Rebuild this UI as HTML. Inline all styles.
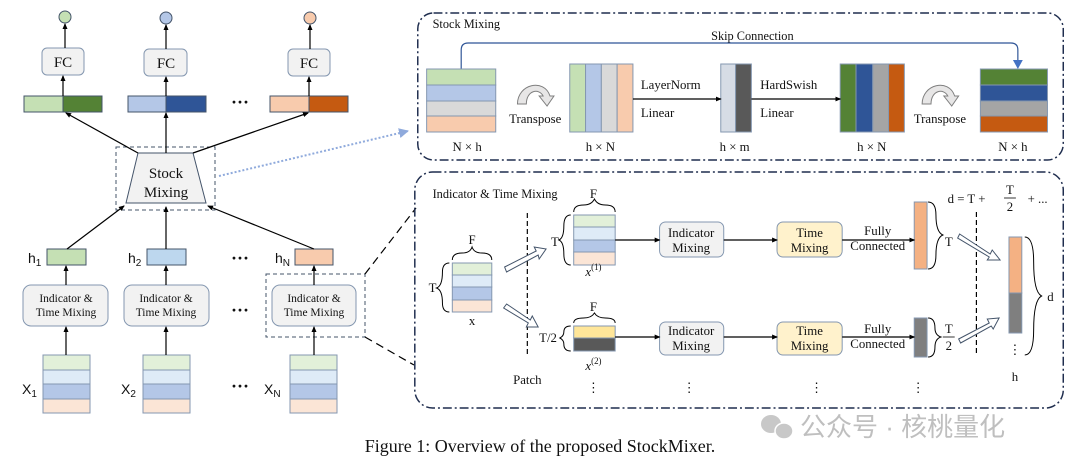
<!DOCTYPE html>
<html><head><meta charset="utf-8"><style>
html,body{margin:0;padding:0;background:#fff;}
svg{display:block;}
text{font-family:"Liberation Serif",serif;fill:#111;}
</style></head><body>
<svg width="1080" height="470" viewBox="0 0 1080 470" xmlns="http://www.w3.org/2000/svg">
<defs>
<marker id="a" markerWidth="6" markerHeight="6" refX="5" refY="3" orient="auto" markerUnits="userSpaceOnUse"><path d="M0,0.5 L6,3 L0,5.5 Z" fill="#000"/></marker>
<marker id="b" markerWidth="10" markerHeight="10" refX="9" refY="5" orient="auto" markerUnits="userSpaceOnUse"><path d="M0,0 L10,5 L0,10 Z" fill="#8faadc"/></marker>
</defs>
<g stroke="#44546a" stroke-width="1">
<circle cx="65" cy="17" r="6" fill="#c5e0b4"/>
<circle cx="166" cy="18" r="6" fill="#b4c7e7"/>
<circle cx="310" cy="18" r="6" fill="#f8cbad"/>
<rect x="42" y="48" width="42" height="27" rx="5" fill="#f2f2f2" stroke="#8497b0"/>
<rect x="144" y="49" width="43" height="27" rx="5" fill="#f2f2f2" stroke="#8497b0"/>
<rect x="288" y="49" width="42" height="27" rx="5" fill="#f2f2f2" stroke="#8497b0"/>
<rect x="24" y="96" width="39" height="16" fill="#c5e0b4"/><rect x="63" y="96" width="39" height="16" fill="#548235"/>
<rect x="128" y="96" width="38" height="16" fill="#b4c7e7"/><rect x="166" y="96" width="40" height="16" fill="#2f5597"/>
<rect x="270" y="96" width="39" height="16" fill="#f8cbad"/><rect x="309" y="96" width="39" height="16" fill="#c55a11"/>
<rect x="116" y="147" width="99" height="63" fill="none" stroke-dasharray="4,3"/>
<path d="M138,153 L193,153 L206,203 L126,203 Z" fill="#f2f2f2"/>
<rect x="47" y="249" width="39" height="16" fill="#c5e0b4"/>
<rect x="147" y="249" width="39" height="16" fill="#bdd7ee"/>
<rect x="295" y="249" width="38" height="16" fill="#f8cbad"/>
<rect x="23" y="285" width="85" height="41" rx="8" fill="#f2f2f2" stroke="#8497b0"/>
<rect x="124" y="285" width="85" height="41" rx="8" fill="#f2f2f2" stroke="#8497b0"/>
<rect x="272" y="285" width="84" height="41" rx="8" fill="#f2f2f2" stroke="#8497b0"/>
<rect x="266" y="274" width="99" height="63" fill="none" stroke-dasharray="4,3"/>
</g>
<g stroke="#8497b0" stroke-width="1">
<g id="stk"><rect x="43" y="355" width="47" height="15" fill="#e2f0d9"/><rect x="43" y="370" width="47" height="14" fill="#deebf7"/><rect x="43" y="384" width="47" height="15" fill="#b4c7e7"/><rect x="43" y="399" width="47" height="14" fill="#fbe5d6"/></g>
<use href="#stk" x="100"/><use href="#stk" x="247"/>
</g>
<g stroke="#000" stroke-width="1.2" fill="none" marker-end="url(#a)">
<line x1="65" y1="48" x2="65" y2="24"/><line x1="166" y1="49" x2="166" y2="25"/><line x1="310" y1="49" x2="310" y2="25"/>
<line x1="63" y1="96" x2="63" y2="76"/><line x1="166" y1="96" x2="166" y2="77"/><line x1="309" y1="96" x2="309" y2="77"/>
<line x1="138" y1="153" x2="66" y2="113"/><line x1="166" y1="153" x2="166" y2="113"/><line x1="193" y1="153" x2="308" y2="113"/>
<line x1="67" y1="249" x2="124" y2="206"/><line x1="166" y1="249" x2="166" y2="207"/><line x1="314" y1="249" x2="208" y2="206"/>
<line x1="66" y1="285" x2="66" y2="266"/><line x1="166" y1="285" x2="166" y2="266"/><line x1="314" y1="285" x2="314" y2="266"/>
<line x1="66" y1="355" x2="66" y2="327"/><line x1="166" y1="355" x2="166" y2="327"/><line x1="314" y1="355" x2="314" y2="327"/>
</g>
<g stroke="#000" stroke-width="1.2" stroke-dasharray="8,5">
<line x1="365" y1="274" x2="416" y2="208"/><line x1="365" y1="337" x2="414" y2="365"/>
</g>
<line x1="219" y1="176" x2="408" y2="131" stroke="#8faadc" stroke-width="2" stroke-dasharray="2,2" marker-end="url(#b)"/>
<g font-size="15" text-anchor="middle">
<text x="63" y="67">FC</text><text x="166" y="68">FC</text><text x="309" y="68">FC</text>
<text x="166" y="178">Stock</text><text x="166" y="197">Mixing</text>
</g>
<g font-size="11.5" text-anchor="middle" fill="#222">
<text x="66" y="302">Indicator &amp;</text><text x="66" y="316">Time Mixing</text>
<text x="166" y="302">Indicator &amp;</text><text x="166" y="316">Time Mixing</text>
<text x="314" y="302">Indicator &amp;</text><text x="314" y="316">Time Mixing</text>
</g>
<g font-size="14">
<text x="28" y="263" style="font-family:'Liberation Sans',sans-serif">h<tspan font-size="10" dy="3">1</tspan></text>
<text x="128" y="263" style="font-family:'Liberation Sans',sans-serif">h<tspan font-size="10" dy="3">2</tspan></text>
<text x="275" y="263" style="font-family:'Liberation Sans',sans-serif">h<tspan font-size="10" dy="3">N</tspan></text>
<text x="22" y="394" style="font-family:'Liberation Sans',sans-serif">X<tspan font-size="10" dy="3">1</tspan></text>
<text x="121" y="394" style="font-family:'Liberation Sans',sans-serif">X<tspan font-size="10" dy="3">2</tspan></text>
<text x="264" y="394" style="font-family:'Liberation Sans',sans-serif">X<tspan font-size="10" dy="3">N</tspan></text>
</g>
<g font-size="18" font-weight="bold" text-anchor="middle">
<text x="240" y="108">···</text><text x="240" y="264">···</text><text x="240" y="316">···</text><text x="240" y="392">···</text>
</g>

<g transform="matrix(0.987 0 0 1 5.2 0)">
<rect x="418" y="13" width="654" height="147" rx="16" fill="none" stroke="#1f2d4e" stroke-width="1.5" stroke-dasharray="9,3,2,3"/>
<text x="433" y="28" font-size="12.5">Stock Mixing</text>
<path d="M462,69 V50 Q462,43 469,43 H1019 Q1026,43 1026,50 V60" fill="none" stroke="#2f5597" stroke-width="1.2"/>
<path d="M1021,60 L1031,60 L1026,69 Z" fill="#4472c4"/>
<text x="757" y="40" font-size="12.5" text-anchor="middle">Skip Connection</text>
<g stroke="#8497b0" stroke-width="1">
<rect x="427" y="69" width="70" height="16" fill="#c5e0b4"/><rect x="427" y="85" width="70" height="16" fill="#b4c7e7"/><rect x="427" y="101" width="70" height="15" fill="#d9d9d9"/><rect x="427" y="116" width="70" height="16" fill="#f8cbad"/>
<rect x="572" y="64" width="16" height="68" fill="#c5e0b4"/><rect x="588" y="64" width="16" height="68" fill="#b4c7e7"/><rect x="604" y="64" width="16" height="68" fill="#d9d9d9"/><rect x="620" y="64" width="16" height="68" fill="#f8cbad"/>
<rect x="725" y="64" width="15" height="68" fill="#d6dce5"/><rect x="740" y="64" width="16" height="68" fill="#595959"/>
<rect x="846" y="64" width="16" height="68" fill="#548235"/><rect x="862" y="64" width="17" height="68" fill="#2f5597"/><rect x="879" y="64" width="16" height="68" fill="#a5a5a5"/><rect x="895" y="64" width="16" height="68" fill="#c55a11"/>
<rect x="988" y="69" width="68" height="16" fill="#548235"/><rect x="988" y="85" width="68" height="16" fill="#2f5597"/><rect x="988" y="101" width="68" height="15" fill="#a5a5a5"/><rect x="988" y="116" width="68" height="16" fill="#c55a11"/>
</g>
<g stroke="#000" stroke-width="1.2" marker-end="url(#a)">
<line x1="636" y1="99" x2="725" y2="99"/><line x1="756" y1="99" x2="846" y2="99"/>
</g>
<g fill="#e7e6e6" stroke="#7f7f7f" stroke-width="1">
<path d="M519,104 C519,84 546,78 552,96 L556,96 L549,106 L541,96 L545,96 C541,88 528,90 528,104 Z"/>
<path d="M929,104 C929,84 956,78 962,96 L966,96 L959,106 L951,96 L955,96 C951,88 938,90 938,104 Z"/>
</g>
<g font-size="13" text-anchor="middle">
<text x="537" y="123">Transpose</text><text x="947" y="123">Transpose</text>
<text x="468" y="151">N × h</text><text x="603" y="151">h × N</text><text x="739" y="151">h × m</text><text x="878" y="151">h × N</text><text x="1021" y="151">N × h</text>
</g>
<g font-size="13">
<text x="644" y="89">LayerNorm</text><text x="644" y="117">Linear</text>
<text x="765" y="89">HardSwish</text><text x="765" y="117">Linear</text>
</g>

<rect x="415" y="172" width="657" height="236" rx="18" fill="none" stroke="#1f2d4e" stroke-width="1.5" stroke-dasharray="9,3,2,3"/>
<text x="433" y="198" font-size="12.5">Indicator &amp; Time Mixing</text>
<g stroke="#8497b0" stroke-width="1">
<rect x="453" y="263" width="40" height="12" fill="#e2f0d9"/><rect x="453" y="275" width="40" height="12" fill="#deebf7"/><rect x="453" y="287" width="40" height="13" fill="#b4c7e7"/><rect x="453" y="300" width="40" height="12" fill="#fbe5d6"/>
<rect x="576" y="215" width="42" height="12" fill="#e2f0d9"/><rect x="576" y="227" width="42" height="13" fill="#deebf7"/><rect x="576" y="240" width="42" height="12" fill="#b4c7e7"/><rect x="576" y="252" width="42" height="13" fill="#fbe5d6"/>
<rect x="576" y="326" width="42" height="12" fill="#ffe699"/><rect x="576" y="338" width="42" height="13" fill="#595959"/>
<rect x="663" y="222" width="65" height="35" rx="6" fill="#f2f2f2"/>
<rect x="782" y="222" width="66" height="35" rx="6" fill="#fff2cc"/>
<rect x="663" y="322" width="65" height="33" rx="6" fill="#f2f2f2"/>
<rect x="782" y="322" width="66" height="33" rx="6" fill="#fff2cc"/>
<rect x="921" y="202" width="13" height="67" fill="#f4b183"/>
<rect x="921" y="318" width="13" height="39" fill="#7f7f7f"/>
<rect x="1017" y="237" width="13" height="56" fill="#f4b183"/><rect x="1017" y="293" width="13" height="40" fill="#7f7f7f"/>
</g>
<g fill="none" stroke="#000" stroke-width="1">
<path d="M453,260 Q453,253 463,253 Q471,253 473,247 Q475,253 483,253 Q493,253 493,260"/>
<path d="M450,263 Q443,263 443,272 Q443,286 437,288 Q443,290 443,303 Q443,312 450,312"/>
<path d="M576,212 Q576,205 586,205 Q594,205 597,199 Q600,205 608,205 Q618,205 618,212"/>
<path d="M573,215 Q566,215 566,226 Q566,238 561,240 Q566,242 566,254 Q566,265 573,265"/>
<path d="M576,323 Q576,318 586,318 Q594,318 597,313 Q600,318 608,318 Q618,318 618,323"/>
<path d="M573,326 Q566,326 566,332 Q566,336 562,338 Q566,340 566,344 Q566,351 573,351"/>
<path d="M935,202 Q943,202 943,215 Q943,232 950,235 Q943,238 943,255 Q943,269 935,269"/>
<path d="M935,318 Q942,318 942,328 Q942,335 948,337 Q942,339 942,347 Q942,357 935,357"/>
<path d="M1033,237 Q1042,237 1042,262 Q1042,292 1050,296 Q1042,300 1042,330 Q1042,355 1033,355"/>
</g>
<g stroke="#000" stroke-width="1.2" stroke-dasharray="5,3">
<line x1="529" y1="213" x2="529" y2="357"/><line x1="984" y1="212" x2="984" y2="353"/>
</g>
<g stroke="#000" stroke-width="1.2" marker-end="url(#a)">
<line x1="618" y1="240" x2="663" y2="240"/><line x1="728" y1="240" x2="782" y2="240"/><line x1="848" y1="240" x2="921" y2="240"/>
<line x1="618" y1="337" x2="663" y2="337"/><line x1="728" y1="337" x2="782" y2="337"/><line x1="848" y1="337" x2="921" y2="337"/>
</g>
<g fill="#fff" stroke="#44546a" stroke-width="1">
<path d="M506,267 L538,251 L536,247 L548,249 L541,259 L540,255 L508,272 Z"/>
<path d="M508,304 L532,320 L534,316 L540,327 L528,327 L530,323 L505,308 Z"/>
<path d="M967,234 L998,254 L1000,250 L1008,260 L995,260 L997,257 L965,238 Z"/>
<path d="M966,339 L997,323 L995,319 L1007,318 L1001,329 L999,326 L968,343 Z"/>
</g>
<g font-size="13" text-anchor="middle">
<text x="473" y="244">F</text><text x="433" y="292">T</text><text x="473" y="325">x</text>
<text x="596" y="198">F</text><text x="557" y="246">T</text><text x="596" y="276" font-style="italic">x<tspan font-size="9" font-style="normal" dy="-6">(1)</tspan></text>
<text x="596" y="311">F</text><text x="550" y="342">T/2</text><text x="596" y="370" font-style="italic">x<tspan font-size="9" font-style="normal" dy="-6">(2)</tspan></text>
<text x="695" y="237">Indicator</text><text x="695" y="252">Mixing</text>
<text x="815" y="237">Time</text><text x="815" y="252">Mixing</text>
<text x="695" y="335">Indicator</text><text x="695" y="350">Mixing</text>
<text x="815" y="335">Time</text><text x="815" y="350">Mixing</text>
<text x="884" y="235">Fully</text><text x="884" y="250">Connected</text>
<text x="884" y="333">Fully</text><text x="884" y="348">Connected</text>
<text x="956" y="246">T</text>
<text x="956" y="333">T</text><text x="956" y="350">2</text>
<text x="529" y="384">Patch</text>
<text x="1059" y="301">d</text><text x="1023" y="381">h</text>
<text x="1023" y="354">⋮</text>
<text x="596" y="392">⋮</text><text x="693" y="392">⋮</text><text x="822" y="392">⋮</text><text x="925" y="392">⋮</text>
<text x="974" y="203">d = T +</text>
<text x="1018" y="194">T</text><text x="1018" y="211">2</text><text x="1046" y="203">+ ...</text>
</g>
<line x1="950" y1="337" x2="962" y2="337" stroke="#000" stroke-width="0.8"/>
<line x1="1012" y1="198" x2="1024" y2="198" stroke="#000" stroke-width="0.8"/>
</g>

<g fill="#c8c8c8">
<ellipse cx="771" cy="424" rx="10" ry="9"/><ellipse cx="784" cy="431" rx="9" ry="8" stroke="#fff" stroke-width="1.5"/>
</g>
<text x="800" y="436" font-size="26" style="font-family:'Liberation Sans','Noto Sans CJK SC',sans-serif;fill:#bfbfbf">公众号 · 核桃量化</text>
<text x="540" y="452" font-size="18" text-anchor="middle">Figure 1: Overview of the proposed StockMixer.</text>
</svg>
</body></html>
